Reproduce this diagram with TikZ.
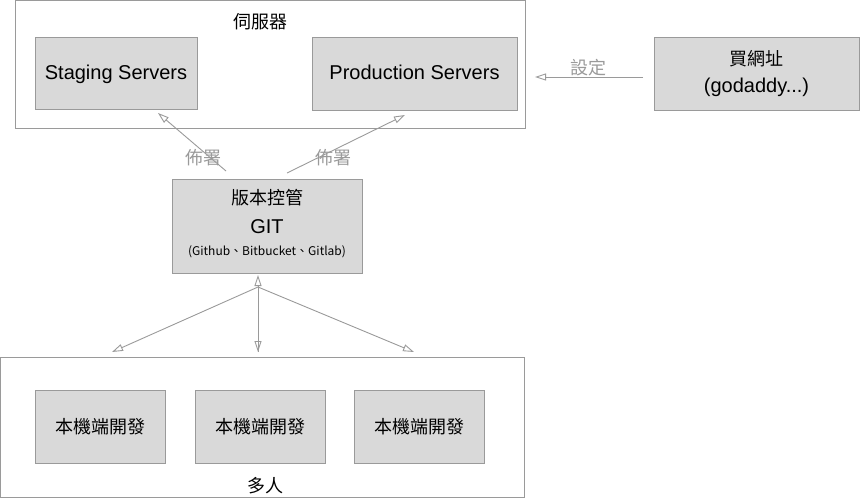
\documentclass[tikz,border=0pt]{standalone}
\usepackage{fontspec}
\setmainfont{Liberation Sans}
\newfontfamily\cjk{Noto Sans CJK TC}
\usetikzlibrary{arrows.meta}
\definecolor{boxfill}{HTML}{D9D9D9}
\definecolor{edge}{HTML}{9A9A9A}
\begin{document}
\begin{tikzpicture}[x=1pt,y=-1pt,
  frame/.style={draw=edge,line width=1pt,fill=white,inner sep=0pt},
  graybox/.style={draw=edge,line width=1pt,fill=boxfill,inner sep=0pt,align=center,font=\fontsize{20}{24}\selectfont},
  conn/.style={draw=edge,line width=0.9pt,-{Triangle[open,length=11pt,width=7pt]}},
  lbl/.style={text=edge,font=\cjk\fontsize{18}{22}\selectfont,inner sep=0pt}]
\useasboundingbox (0,0) rectangle (860,498);
% containers
\node[frame,minimum width=510pt,minimum height=128pt] (srv) at (270,64.5) {};
\node[frame,minimum width=524pt,minimum height=140pt] (team) at (262.5,427) {};
\node[inner sep=0pt,font=\cjk\fontsize{18}{22}\selectfont] (srvt) at (260,22) {伺服器};
\node[inner sep=0pt,font=\cjk\fontsize{18}{22}\selectfont] (teamt) at (265,486) {多人};
% servers
\node[graybox,minimum width=162pt,minimum height=72pt,text depth=2pt] (stg) at (116,73) {Staging Servers};
\node[graybox,minimum width=205pt,minimum height=73pt,text depth=2pt] (prod) at (414.5,73.5) {Production Servers};
\node[graybox,minimum width=205pt,minimum height=73pt] (dom) at (756.5,73.5) {{\cjk\fontsize{18}{22}\selectfont 買網址}\\[3pt](godaddy...)};
% git
\node[graybox,minimum width=190pt,minimum height=94pt] (git) at (267,226) {};
\node[inner sep=0pt,font=\cjk\fontsize{18}{22}\selectfont] (g1) at (267,198) {版本控管};
\node[inner sep=0pt,font=\fontsize{20}{24}\selectfont] (g2) at (267,227) {GIT};
\node[inner sep=0pt,font=\cjk\fontsize{12}{14}\selectfont] (g3) at (267,252) {(Github、Bitbucket、Gitlab)};
% local dev
\node[graybox,minimum width=130pt,minimum height=73pt,font=\cjk\fontsize{18}{22}\selectfont] (d1) at (100,426.5) {本機端開發};
\node[graybox,minimum width=130pt,minimum height=73pt,font=\cjk\fontsize{18}{22}\selectfont] (d2) at (260,426.5) {本機端開發};
\node[graybox,minimum width=130pt,minimum height=73pt,font=\cjk\fontsize{18}{22}\selectfont] (d3) at (419.5,426.5) {本機端開發};
% free ends
\coordinate (a1s) at (226,171);
\coordinate (a1e) at (158,113);
\coordinate (a2s) at (287,173);
\coordinate (a2e) at (405,115);
\coordinate (a3s) at (643,77);
\coordinate (a3e) at (535,77);
\coordinate (hub) at (258,287);
\coordinate (up) at (258,275);
\coordinate (t1) at (112,352);
\coordinate (t2) at (258,352);
\coordinate (t3) at (414,352);
% connectors
\draw[conn] (a1s) -- (a1e);
\draw[conn] (a2s) -- (a2e);
\draw[conn] (a3s) -- (a3e);
\draw[conn] (t2) -- (up);
\draw[conn] (hub) -- (t1);
\draw[conn] (hub) -- (t2);
\draw[conn] (hub) -- (t3);
% labels
\node[lbl] (l1) at (203,158) {佈署};
\node[lbl] (l2) at (333,158) {佈署};
\node[lbl] (l3) at (588,68) {設定};
\end{tikzpicture}
\end{document}
